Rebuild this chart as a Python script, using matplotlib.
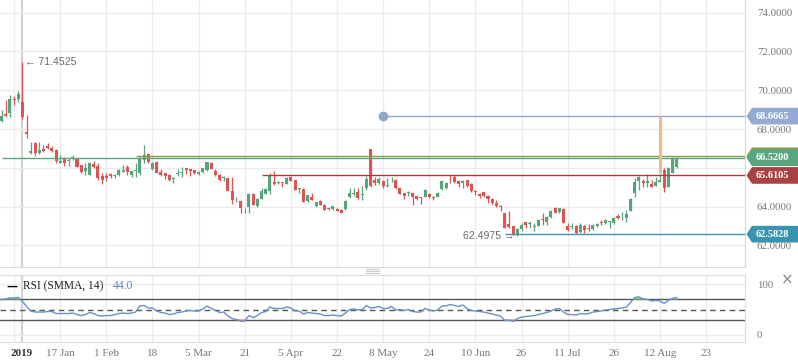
import matplotlib
matplotlib.use('Agg')
import matplotlib.pyplot as plt
import matplotlib.transforms as mtransforms
from matplotlib.lines import Line2D
from matplotlib.patches import Polygon
import numpy as np

# daily candles, index = trading day
opens = [
    68.42, 68.78, 68.83, 69.55, 69.55, 69.40, 67.85, 66.77, 67.28, 66.78,
    66.97, 67.13, 67.01, 66.92, 66.27, 66.46, 66.36, 66.44, 66.46, 66.15,
    65.86, 65.63, 66.20, 66.11, 65.60, 65.60, 65.69, 65.57, 65.63, 65.80,
    66.03, 65.63, 65.86, 65.72, 66.41, 66.70, 65.93, 66.29, 65.80, 65.75,
    65.63, 65.41, 65.69, 65.74, 65.98, 65.93, 65.89, 65.67, 65.80, 65.89,
    66.27, 65.84, 65.63, 65.48, 65.49, 64.81, 64.38, 64.29, 63.86, 64.00,
    64.66, 64.04, 64.40, 64.66, 64.82, 65.29, 65.20, 65.29, 65.17, 65.53,
    65.38, 64.91, 64.91, 64.29, 64.51, 64.05, 64.31, 64.09, 63.93, 63.88,
    63.88, 63.83, 63.86, 64.48, 64.66, 64.77, 64.60, 64.95, 66.97, 65.38,
    65.24, 65.32, 65.07, 65.36, 65.38, 64.95, 64.69, 64.72, 64.69, 64.55,
    64.48, 64.51, 64.64, 64.51, 64.51, 64.90, 64.95, 65.44, 65.55, 65.32,
    65.20, 65.38, 65.17, 64.79, 64.66, 64.74, 64.55, 64.38, 64.21, 64.02,
    63.69, 63.09, 63.01, 62.54, 62.84, 63.21, 63.11, 62.94, 63.02, 63.37,
    63.23, 63.45, 63.92, 63.71, 63.87, 63.01, 62.94, 63.01, 62.68, 63.02,
    62.92, 62.85, 63.01, 63.23, 63.14, 63.21, 63.14, 63.52, 63.50, 63.40,
    63.79, 64.72, 65.34, 65.34, 65.20, 65.17, 65.07, 65.29, 65.89, 65.03,
    65.75, 66.06,
]
highs = [
    68.98, 69.50, 69.76, 69.71, 69.96, 71.4525, 68.73, 67.34, 67.35, 67.34,
    67.18, 67.28, 67.14, 66.97, 66.67, 66.58, 66.49, 66.67, 66.46, 66.15,
    66.27, 66.32, 66.36, 66.24, 65.75, 65.72, 65.72, 65.67, 65.94, 66.15,
    66.15, 65.89, 66.27, 66.58, 67.18, 66.78, 66.32, 66.36, 65.94, 65.75,
    65.67, 65.55, 65.93, 66.03, 66.01, 65.94, 65.89, 65.84, 66.01, 66.32,
    66.29, 65.94, 65.69, 65.58, 65.49, 65.55, 64.50, 64.35, 63.93, 64.71,
    64.69, 64.45, 64.95, 64.98, 65.75, 65.84, 65.32, 65.29, 65.51, 65.55,
    65.38, 64.95, 64.95, 64.60, 64.71, 64.26, 64.35, 64.12, 63.98, 64.04,
    63.92, 63.88, 64.35, 64.95, 64.95, 64.95, 65.07, 65.58, 66.97, 65.51,
    65.51, 65.38, 65.46, 65.55, 65.41, 64.98, 64.69, 64.81, 64.72, 64.60,
    64.51, 64.91, 64.72, 64.55, 64.77, 65.38, 65.26, 65.63, 65.63, 65.38,
    65.38, 65.38, 65.20, 64.86, 64.69, 64.77, 64.60, 64.43, 64.35, 64.09,
    63.69, 63.80, 63.02, 62.89, 63.14, 63.23, 63.28, 63.14, 63.35, 63.66,
    63.52, 63.83, 63.97, 63.93, 63.92, 63.14, 63.17, 63.06, 63.14, 63.06,
    63.09, 63.09, 63.14, 63.31, 63.35, 63.26, 63.45, 63.61, 63.74, 63.83,
    64.43, 65.46, 65.60, 65.41, 65.69, 65.38, 65.55, 65.67, 65.98, 66.03,
    66.58, 66.58,
]
lows = [
    68.37, 68.62, 68.62, 69.24, 69.40, 68.52, 67.54, 66.72, 66.63, 66.72,
    66.83, 66.97, 66.83, 66.27, 66.24, 66.11, 66.11, 66.41, 66.03, 65.72,
    65.63, 65.63, 66.01, 65.38, 65.17, 65.34, 65.46, 65.46, 65.58, 65.80,
    65.63, 65.55, 65.51, 65.63, 66.24, 66.27, 65.89, 65.72, 65.58, 65.41,
    65.34, 65.20, 65.60, 65.51, 65.69, 65.58, 65.67, 65.63, 65.75, 65.86,
    65.93, 65.58, 65.34, 65.34, 64.81, 64.14, 64.24, 63.68, 63.68, 63.68,
    64.09, 64.00, 64.38, 64.64, 64.64, 65.12, 65.17, 65.03, 65.15, 65.32,
    64.86, 64.69, 64.24, 64.26, 64.35, 64.00, 64.09, 63.83, 63.83, 63.83,
    63.78, 63.68, 63.83, 64.43, 64.55, 64.40, 64.35, 64.86, 65.03, 65.12,
    65.15, 64.95, 65.03, 65.29, 64.93, 64.64, 64.40, 64.57, 64.09, 64.35,
    64.14, 64.48, 64.43, 64.35, 64.48, 64.86, 64.91, 65.20, 65.20, 65.03,
    64.98, 65.03, 64.77, 64.60, 64.46, 64.51, 64.17, 64.09, 64.00, 63.80,
    62.89, 62.89, 62.54, 62.4975, 62.76, 62.89, 62.89, 62.76, 63.01, 63.06,
    63.06, 63.43, 63.66, 63.69, 63.14, 62.76, 62.85, 62.59, 62.66, 62.66,
    62.76, 62.80, 62.97, 63.06, 63.11, 62.89, 63.11, 63.37, 63.31, 63.23,
    63.78, 64.48, 64.86, 65.00, 65.00, 65.00, 65.07, 65.26, 64.74, 65.00,
    65.72, 65.98,
]
closes = [
    68.68, 68.68, 69.55, 69.50, 69.81, 68.62, 67.75, 66.87, 66.77, 66.92,
    66.87, 67.03, 66.89, 66.36, 66.37, 66.25, 66.41, 66.58, 66.06, 65.80,
    66.01, 66.27, 66.06, 65.46, 65.38, 65.46, 65.58, 65.60, 65.89, 65.89,
    65.80, 65.84, 65.89, 66.53, 66.67, 66.32, 66.27, 65.75, 65.63, 65.58,
    65.38, 65.49, 65.72, 65.77, 65.89, 65.86, 65.75, 65.77, 65.98, 66.29,
    65.94, 65.63, 65.38, 65.51, 64.81, 64.35, 64.38, 63.92, 63.88, 64.66,
    64.09, 64.40, 64.82, 64.91, 65.63, 65.17, 65.29, 65.24, 65.49, 65.34,
    64.86, 64.95, 64.26, 64.60, 64.35, 64.26, 64.09, 63.83, 63.88, 64.04,
    63.78, 63.69, 64.29, 64.69, 64.71, 64.43, 64.64, 65.41, 65.08, 65.20,
    65.43, 65.08, 65.10, 65.39, 64.98, 64.66, 64.55, 64.74, 64.51, 64.40,
    64.45, 64.86, 64.48, 64.43, 64.72, 65.34, 65.20, 65.41, 65.29, 65.17,
    65.34, 65.07, 64.81, 64.76, 64.55, 64.55, 64.38, 64.17, 64.05, 63.98,
    62.89, 62.97, 62.59, 62.84, 63.06, 63.06, 63.14, 62.97, 63.31, 63.33,
    63.48, 63.79, 63.69, 63.92, 63.18, 62.80, 62.97, 62.66, 63.06, 62.80,
    62.84, 63.06, 63.09, 63.14, 63.31, 63.23, 63.40, 63.40, 63.52, 63.62,
    64.38, 65.29, 65.55, 65.24, 65.34, 65.03, 65.29, 65.39, 64.95, 65.98,
    66.53, 66.52,
]
rsi = [
    70, 71, 73, 73, 74, 66, 56, 47, 45, 45,
    45, 46, 46, 42, 42, 42, 42, 43, 40, 38,
    40, 44, 42, 38, 37, 38, 38, 40, 42, 43,
    42, 43, 45, 57, 58, 53, 53, 47, 44, 43,
    40, 41, 44, 45, 47, 48, 47, 47, 51, 57,
    52, 48, 44, 45, 37, 32, 30, 27, 27, 38,
    34, 38, 44, 46, 55, 52, 52, 52, 55, 53,
    47, 47, 41, 44, 43, 42, 41, 38, 38, 39,
    38, 37, 43, 50, 51, 49, 50, 58, 53, 54,
    56, 52, 52, 56, 49, 50, 48, 50, 46, 45,
    45, 52, 49, 47, 49, 57, 57, 60, 58, 56,
    59, 52, 48, 47, 46, 45, 43, 41, 39, 37,
    28, 29, 26, 32, 35, 36, 37, 38, 40, 42,
    44, 47, 51, 52, 45, 40, 40, 39, 42, 41,
    42, 45, 46, 47, 49, 50, 51, 52, 53, 55,
    64, 74, 75, 71, 70, 67, 68, 67, 62, 68,
    72, 74,
]

tick_pos = [4.8, 14, 25, 36, 47, 58, 69, 80, 91, 102, 113, 124, 135, 146, 157, 168]
tick_text = ['2019', '17 Jan', '1 Feb', '18', '5 Mar', '21', '5 Apr', '22', '8 May',
             '24', '10 Jun', '26', '11 Jul', '26', '12 Aug', '23']
price_ticks = [62, 64, 66, 68, 70, 72, 74]
# 66.0000 sits under the price tags, so it is left blank
price_labels = ['62.0000', '64.0000', '', '68.0000', '70.0000', '72.0000', '74.0000']

# drawn levels: (price, colour, first candle)
levels = [
    (68.6665, '#8fa6cf', 91),
    (66.62, '#8b9b52', 32),
    (66.52, '#5aa77f', 0),
    (65.6105, '#a63e3e', 62),
    (62.5828, '#3a93ad', 120),
]
tags = [
    (68.6665, '#93abd3', '68.6665'),
    (66.62, '#8b9b52', ''),
    (66.52, '#5aa77f', '66.5200'),
    (65.6105, '#a94343', '65.6105'),
    (62.5828, '#3b94af', '62.5828'),
]

UP = '#55a47b'
DOWN = '#e05350'
FLAT = '#8a8a8a'
GRID = '#ececec'
SERIF = 'Liberation Serif'
SANS = ['Liberation Sans', 'DejaVu Sans']

W, H = 798, 363
fig = plt.figure(figsize=(W / 100, H / 100), dpi=100)
ax = fig.add_axes([0, 1 - 267 / H, 745 / W, 267 / H])
ax_rsi = fig.add_axes([0, 1 - 342.3 / H, 745 / W, (342.3 - 275) / H], sharex=ax)

x = np.arange(len(closes))
o = np.array(opens)
c = np.array(closes)
colors = [UP if cc > oo else DOWN if cc < oo else FLAT for oo, cc in zip(o, c)]

for a in (ax, ax_rsi):
    for p in [3] + tick_pos[1:]:
        a.axvline(p, color=GRID, lw=1, zorder=0)
    a.axvline(tick_pos[0], color='#d2d2d2', lw=1.6, zorder=0)

for p in price_ticks:
    ax.axhline(p, color=GRID, lw=1, zorder=0)

ax.vlines(x, lows, highs, colors=colors, lw=0.9, zorder=3)
body = np.maximum(np.abs(c - o), 0.04)
ax.bar(x, body, bottom=np.minimum(o, c), width=0.72, color=colors, lw=0, zorder=4)

for price, col, start in levels:
    ax.hlines(price, start, 180, colors=col, lw=1.0, zorder=5)
ax.plot(91, 68.6665, 'o', ms=6, color='#8fa6cf', zorder=6)
ax.vlines(157, 65.72, 68.6665, colors='#f2b98e', lw=2.2, zorder=5)

ax.text(5.6, 71.4525, '\u2190 71.4525', family=SANS,
        fontsize=7.6, color='#6a6a6a', va='center', ha='left')
ax.text(122.4, 62.4975, '62.4975 \u2192', family=SANS,
        fontsize=7.6, color='#6a6a6a', va='center', ha='right', zorder=7)

ax.set_xlim(-0.36, 177.28)
ax.set_ylim(60.89, 74.6546)
ax.yaxis.tick_right()
ax.set_yticks(price_ticks)
ax.set_yticklabels(price_labels, family=SERIF, fontsize=7.8, color='#777777')
ax.tick_params(axis='y', length=0, pad=8.5)
ax.tick_params(axis='x', bottom=False, labelbottom=False)
for s in ('left', 'top'):
    ax.spines[s].set_visible(False)
for s in ('right', 'bottom'):
    ax.spines[s].set_color('#d8d8d8')

# price tags on the right
tr = mtransforms.blended_transform_factory(fig.transFigure, ax.transData)
hh = 0.43
for price, col, label in tags:
    pts = [(746.5 / W, price), (752 / W, price + hh), (1.0, price + hh),
           (1.0, price - hh), (752 / W, price - hh)]
    ax.add_patch(Polygon(pts, closed=True, facecolor=col, edgecolor='none',
                         transform=tr, clip_on=False, zorder=20))
    if label:
        ax.text(772 / W, price, label, transform=tr, ha='center', va='center',
                family=SERIF, fontsize=7.4, fontweight='bold', color='white',
                clip_on=False, zorder=21)

# RSI panel
r = np.array(rsi, dtype=float)
ax_rsi.axhline(100, color=GRID, lw=1, zorder=0)
ax_rsi.axhline(0, color=GRID, lw=1, zorder=0)
ax_rsi.axhline(70, color='#555555', lw=1, zorder=2)
ax_rsi.axhline(30, color='#555555', lw=1, zorder=2)
ax_rsi.axhline(50, color='#555555', lw=1, ls=(0, (4, 3)), zorder=2)
ax_rsi.fill_between(x, r, 70, where=r > 70, interpolate=True, color='#7fdc7f', lw=0, zorder=3)
ax_rsi.fill_between(x, r, 30, where=r < 30, interpolate=True, color='#e07a7a', lw=0, zorder=3)
ax_rsi.plot(x, r, color='#6d8fc7', lw=1, zorder=4)
ax_rsi.set_ylim(-15.1, 118.5)
ax_rsi.yaxis.tick_right()
ax_rsi.set_yticks([0, 100])
ax_rsi.set_yticklabels(['0', '100'], family=SERIF, fontsize=7.8, color='#777777')
ax_rsi.tick_params(axis='y', length=0, pad=8.5)
ax_rsi.set_xticks(tick_pos)
ax_rsi.set_xticklabels(tick_text, family=SERIF, fontsize=8, color='#777777')
ax_rsi.get_xticklabels()[0].set_color('#333333')
ax_rsi.get_xticklabels()[0].set_fontweight('bold')
ax_rsi.tick_params(axis='x', length=0, pad=5)
ax_rsi.spines['left'].set_visible(False)
for s in ('right', 'bottom', 'top'):
    ax_rsi.spines[s].set_color('#dddddd')

ax_rsi.text(0.009, 0.83, '\u2014', transform=ax_rsi.transAxes, fontsize=8,
            fontweight='bold', color='black', va='center')
ax_rsi.text(23 / 745, 0.83, 'RSI (SMMA, 14)', transform=ax_rsi.transAxes,
            family=SERIF, fontsize=8.3, color='#222222', va='center')
ax_rsi.text(113 / 745, 0.83, '44.0', transform=ax_rsi.transAxes,
            family=SERIF, fontsize=8.3, color='#5b82c0', va='center')

# panel resize handle and close cross
for yy in (268.5, 270.5, 272.5):
    fig.add_artist(Line2D([366 / W, 379 / W], [1 - yy / H] * 2, color='#cccccc', lw=0.8))
fig.text(787 / W, 1 - 280 / H, '\u00d7', ha='center', va='center', fontsize=11, color='#888888')

fig.savefig('out.png', dpi=100)
